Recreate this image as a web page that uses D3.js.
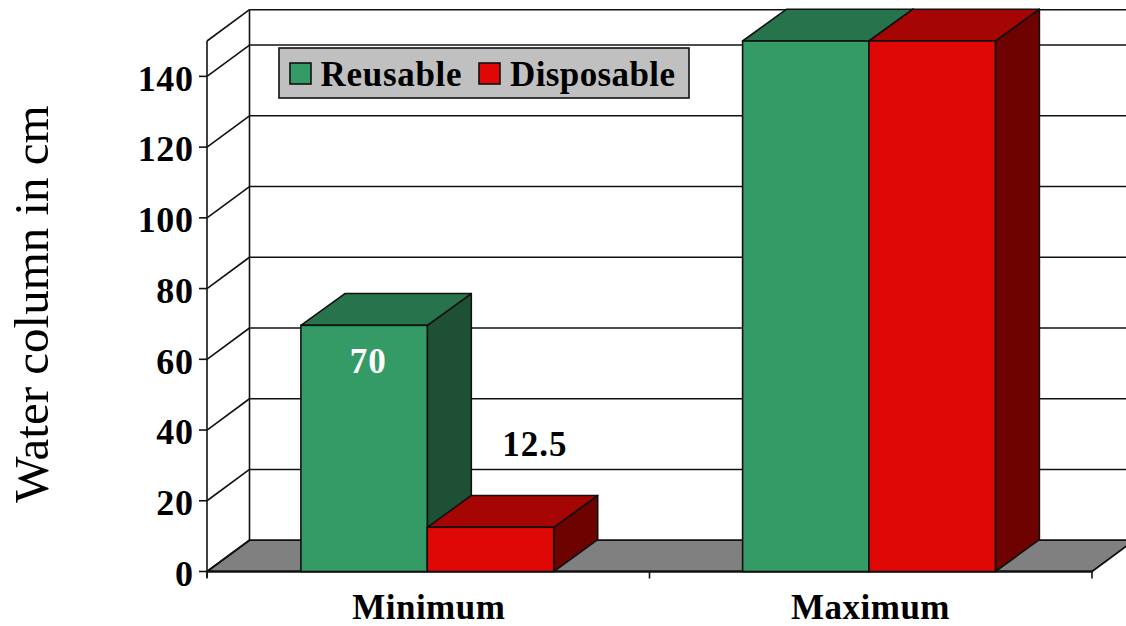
<!DOCTYPE html>
<html><head><meta charset="utf-8">
<script src="https://cdn.jsdelivr.net/npm/d3@7"></script>
<style>html,body{margin:0;padding:0;background:#fff;overflow:hidden}svg{display:block}text{font-family:"Liberation Serif",serif}</style>
</head><body><div id="c"></div>
<script>
const categories=["Minimum","Maximum"];
const seriesNames=["Reusable","Disposable"];
const reusable=[69.6,150];
const disposable=[12.5,150];
const dataLabels=[["70",null],["12.5",null]];
const yTicks=[0,20,40,60,80,100,120,140];
const faceColors=["#359b66","#df0804"];
const topColors=["#27734c","#a50503"];
const sideColors=["#1d5035","#6d0200"];
const W=1126,H=626,L=207,R=1092,B=571.5,T=41,DX=42.5,DY=-31.3,barDX=44,barDY=-31.8;
const svg=d3.select("#c").append("svg").attr("width",W).attr("height",H);
const x=d3.scaleBand().domain(categories).range([206.45,1089.85]);
const y=d3.scaleLinear().domain([0,150]).range([B,T]);
const barW=126.4;
const ink="#111";
const poly=(pts,f,sw=1.6)=>svg.append("polygon").attr("points",pts.map(p=>p.join(",")).join(" ")).attr("fill",f).attr("stroke",ink).attr("stroke-width",sw).attr("stroke-linejoin","round");
const line=(a,b,c,d,sw=1.6)=>svg.append("line").attr("x1",a).attr("y1",b).attr("x2",c).attr("y2",d).attr("stroke",ink).attr("stroke-width",sw);
poly([[L,B],[L+DX,B+DY],[R+DX,B+DY],[R,B]],"#808080",1.8);
line(L+DX,y(150)+DY,R+DX,y(150)+DY);
line(L,y(150),L+DX,y(150)+DY);
line(L+DX,y(150)+DY,L+DX,B+DY);
yTicks.forEach(v=>{
  if(v>0) line(L+DX,y(v)+DY,R+DX,y(v)+DY);
  line(L,y(v),L+DX,y(v)+DY);
  line(L-8,y(v),L,y(v));
  svg.append("text").attr("x",L-13.5).attr("y",y(v)+14.3).attr("text-anchor","end")
    .attr("font-size",36).attr("font-weight","bold").attr("letter-spacing",0.6).attr("fill","#000").text(v);
});
line(L,y(150),L,B+6);
line(L,B,R,B,1.8);
[L,(L+R)/2,R].forEach(v=>line(v,B,v,B+7));
function bar(x0,v,i){
  const x1=x0+barW,t=y(v);
  poly([[x1,t],[x1+barDX,t+barDY],[x1+barDX,B+barDY],[x1,B]],sideColors[i]);
  poly([[x0,t],[x0+barDX,t+barDY],[x1+barDX,t+barDY],[x1,t]],topColors[i]);
  svg.append("rect").attr("x",x0).attr("y",t).attr("width",barW).attr("height",B-t).attr("fill",faceColors[i]).attr("stroke",ink).attr("stroke-width",1.6);
}
categories.forEach((c,k)=>{
  const mid=x(c)+x.bandwidth()/2;
  bar(mid-barW,reusable[k],0);
  bar(mid,disposable[k],1);
  svg.append("text").attr("x",mid+1.5).attr("y",618.5).attr("text-anchor","middle").attr("font-size",35).attr("font-weight","bold").attr("letter-spacing",0.5).text(c);
});
const m0=x(categories[0])+x.bandwidth()/2;
svg.append("text").attr("x",m0-59).attr("y",373).attr("text-anchor","middle").attr("font-size",35).attr("font-weight","bold").attr("letter-spacing",1).attr("fill","#fff").text(dataLabels[0][0]);
svg.append("text").attr("x",m0+107.5).attr("y",455.5).attr("text-anchor","middle").attr("font-size",35).attr("font-weight","bold").attr("letter-spacing",1).attr("fill","#000").text(dataLabels[1][0]);
svg.append("rect").attr("x",279).attr("y",48).attr("width",410).attr("height",50).attr("fill","#c0c0c0").attr("stroke",ink).attr("stroke-width",1.6);
[[290,320.5,0.7],[479,510,0.4]].forEach(([sx,tx,ls],i)=>{
  svg.append("rect").attr("x",sx).attr("y",63).attr("width",21).attr("height",21).attr("fill",faceColors[i]).attr("stroke",ink).attr("stroke-width",1.6);
  svg.append("text").attr("x",tx).attr("y",86).attr("font-size",35).attr("font-weight","bold").attr("letter-spacing",ls).attr("fill","#000").text(seriesNames[i]);
});
svg.append("text").attr("transform","translate(48,304) rotate(-90)").attr("text-anchor","middle").attr("font-size",49).attr("fill","#000").text("Water column in cm");
</script></body></html>
